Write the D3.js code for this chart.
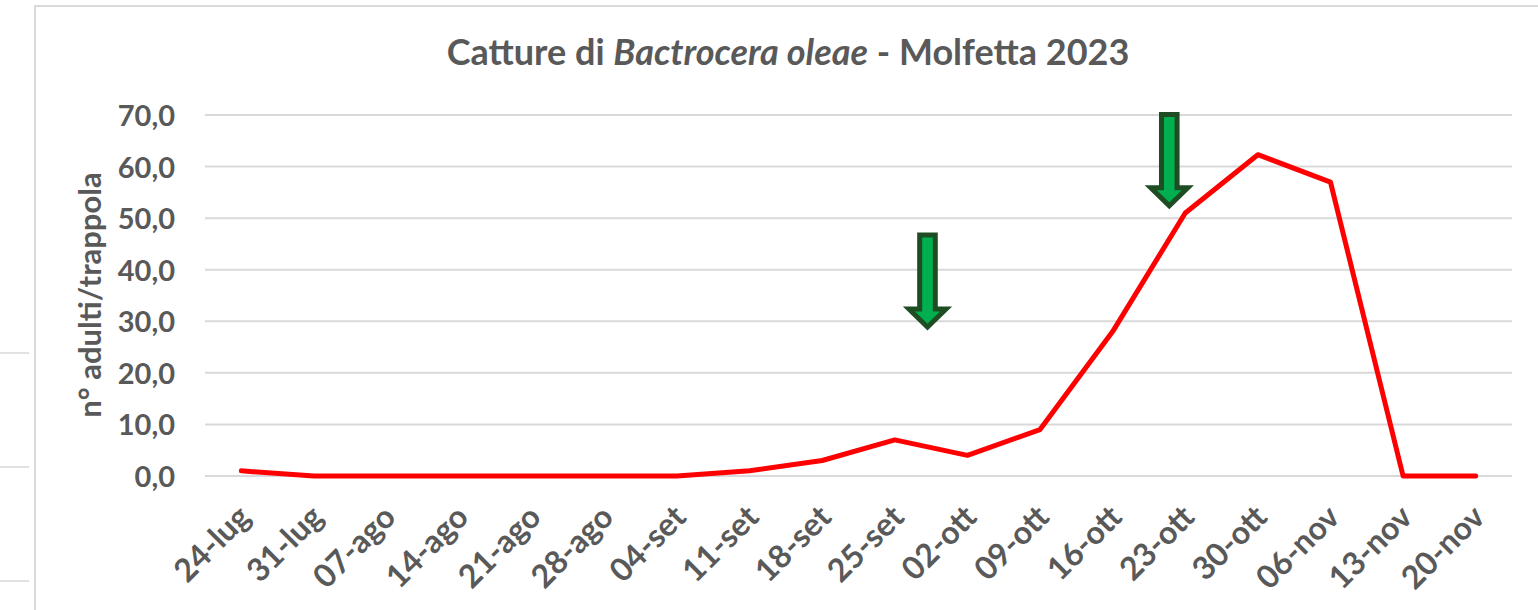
<!DOCTYPE html>
<meta charset="utf-8">
<html>
<head>
  <style>
    body { margin: 0; background: #fff; }
    text { font-family: Lato, "Open Sans", sans-serif; font-weight: bold; fill: #595959; }
  </style>
</head>
<body>
<svg width="1538" height="610"></svg>

<script src="https://d3js.org/d3.v7.min.js"></script>
<script>

// Data
const categories = ["24-lug", "31-lug", "07-ago", "14-ago", "21-ago", "28-ago", "04-set",
  "11-set", "18-set", "25-set", "02-ott", "09-ott", "16-ott", "23-ott", "30-ott",
  "06-nov", "13-nov", "20-nov"];
const catture = [1.0, 0, 0, 0, 0, 0, 0, 1.0, 3.0, 7.0, 4.0, 9.0, 28.0, 51.0, 62.3, 57.0, 0, 0];
const yTicks = [0, 10, 20, 30, 40, 50, 60, 70];
// treatment arrows: position in category units, top and tip in y units
const arrowPos = [9.45, 12.78];
const arrowTop = [47.2, 70.6];
const arrowTip = [28.3, 51.8];

const svg = d3.select("svg");

// outer frame and bits of the neighbouring frame on the left
svg.append("rect")
  .attr("x", 35).attr("y", 6)
  .attr("width", 1600).attr("height", 700)
  .attr("fill", "none").attr("stroke", "#d9d9d9").attr("stroke-width", 2);
[353, 467, 581].forEach(y => {
  svg.append("line").attr("x1", 0).attr("x2", 29).attr("y1", y).attr("y2", y)
    .attr("stroke", "#d9d9d9").attr("stroke-width", 1.5);
});

// Scales
const x = d3.scaleBand().domain(categories).range([205, 1512]);
const y = d3.scaleLinear().domain([0, 70]).range([476, 115]);
const xc = c => x(c) + x.bandwidth() / 2;
const xi = d3.scaleLinear().domain([0, 1]).range([xc(categories[0]), xc(categories[1])]);

// Gridlines
svg.append("g")
  .selectAll("line")
  .data(yTicks)
  .join("line")
  .attr("x1", 205).attr("x2", 1512)
  .attr("y1", d => y(d)).attr("y2", d => y(d))
  .attr("stroke", "#d9d9d9").attr("stroke-width", 2);

// Y axis (labels only)
const yAxis = svg.append("g")
  .attr("transform", "translate(175,0)")
  .call(d3.axisLeft(y).tickValues(yTicks).tickSize(0).tickPadding(0)
    .tickFormat(d => d3.format(".1f")(d).replace(".", ",")));
yAxis.select(".domain").remove();
yAxis.selectAll("text")
  .style("font-size", "29px").attr("dy", "0.36em");

// X axis labels, rotated
const xAxis = svg.append("g")
  .attr("transform", "translate(0,476)")
  .call(d3.axisBottom(x).tickSize(0).tickPadding(0));
xAxis.select(".domain").remove();
xAxis.selectAll("text")
  .style("font-size", "32px")
  .attr("text-anchor", "end")
  .attr("dy", null).attr("y", 0)
  .attr("transform", "translate(11,43) rotate(-45)");

// Y axis title
svg.append("text")
  .attr("transform", "translate(101,295) rotate(-90)")
  .attr("text-anchor", "middle")
  .style("font-size", "31px")
  .text("n° adulti/trappola");

// Chart title
const title = svg.append("text")
  .attr("x", 788).attr("y", 65)
  .attr("text-anchor", "middle")
  .style("font-size", "36px");
title.append("tspan").text("Catture di ");
title.append("tspan").style("font-style", "italic").text("Bactrocera oleae");
title.append("tspan").text(" - Molfetta 2023");

// Series line
svg.append("path")
  .datum(catture)
  .attr("fill", "none")
  .attr("stroke", "#ff0000")
  .attr("stroke-width", 5)
  .attr("stroke-linejoin", "round")
  .attr("stroke-linecap", "round")
  .attr("d", d3.line().x((d, i) => xc(categories[i])).y(d => y(d)));

// Green arrows
const shaftHalf = 7.8, headHalf = 18.5, headLen = 18;
arrowPos.forEach((p, i) => {
  const cx = xi(p), t = y(arrowTop[i]) + 2.5, tip = y(arrowTip[i]) - 3;
  const hb = tip - headLen;
  const pts = [
    [cx - shaftHalf, t], [cx + shaftHalf, t], [cx + shaftHalf, hb], [cx + headHalf, hb],
    [cx, tip], [cx - headHalf, hb], [cx - shaftHalf, hb]
  ];
  svg.append("path")
    .attr("d", d3.line()(pts) + "Z")
    .attr("fill", "#00b050")
    .attr("stroke", "#1e4d24")
    .attr("stroke-width", 5)
    .attr("stroke-linejoin", "miter");
});

</script>
</body>
</html>
